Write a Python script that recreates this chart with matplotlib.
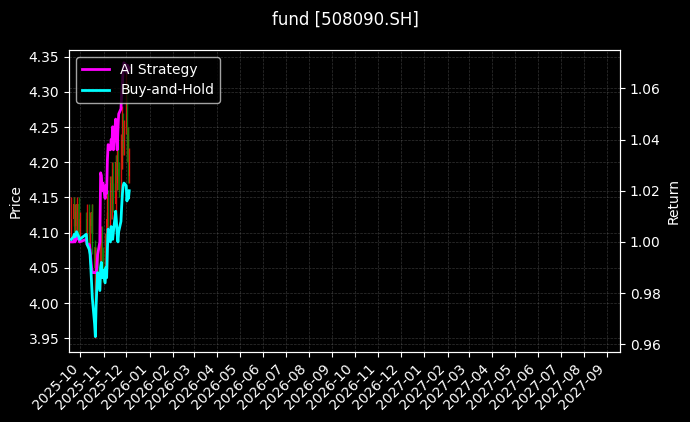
import pandas as pd
import matplotlib
matplotlib.use('Agg')
import matplotlib.pyplot as plt
import matplotlib.dates as mdates

# trading days (Golden Week holiday skipped)
dates = pd.to_datetime([
    '2025-09-19', '2025-09-22', '2025-09-23', '2025-09-24', '2025-09-25', '2025-09-26',
    '2025-09-29', '2025-09-30', '2025-10-09', '2025-10-10',
    '2025-10-13', '2025-10-14', '2025-10-15', '2025-10-16', '2025-10-17',
    '2025-10-20', '2025-10-21', '2025-10-22', '2025-10-23', '2025-10-24',
    '2025-10-27', '2025-10-28', '2025-10-29', '2025-10-30', '2025-10-31',
    '2025-11-03', '2025-11-04', '2025-11-05', '2025-11-06', '2025-11-07',
    '2025-11-10', '2025-11-11', '2025-11-12', '2025-11-13', '2025-11-14',
    '2025-11-17', '2025-11-18', '2025-11-19', '2025-11-20', '2025-11-21',
    '2025-11-24', '2025-11-25', '2025-11-26', '2025-11-27', '2025-11-28',
    '2025-12-01', '2025-12-02', '2025-12-03', '2025-12-04', '2025-12-05',
])

close = [4.12, 4.14, 4.10, 4.13, 4.11, 4.14, 4.10, 4.12, 4.10, 4.13,
         4.09, 4.12, 4.11, 4.13, 4.08, 4.05, 4.07, 4.04, 4.06, 4.03,
         4.08, 4.05, 4.10, 4.07, 4.04, 4.09, 4.06, 4.12, 4.15, 4.11,
         4.17, 4.13, 4.19, 4.16, 4.14, 4.20, 4.17, 4.22, 4.19, 4.16,
         4.23, 4.20, 4.26, 4.22, 4.25, 4.30, 4.21, 4.24, 4.18, 4.20]
open_ = [4.10, 4.12, 4.14, 4.10, 4.13, 4.11, 4.14, 4.10, 4.12, 4.10,
         4.13, 4.09, 4.12, 4.11, 4.13, 4.08, 4.05, 4.07, 4.04, 4.06,
         4.03, 4.08, 4.05, 4.10, 4.07, 4.04, 4.09, 4.06, 4.12, 4.15,
         4.11, 4.17, 4.13, 4.19, 4.16, 4.14, 4.20, 4.17, 4.22, 4.19,
         4.16, 4.23, 4.20, 4.26, 4.22, 4.25, 4.30, 4.21, 4.24, 4.18]
high = [4.15, 4.15, 4.15, 4.14, 4.14, 4.15, 4.15, 4.13, 4.13, 4.14,
        4.14, 4.13, 4.13, 4.14, 4.14, 4.09, 4.08, 4.08, 4.07, 4.07,
        4.09, 4.09, 4.11, 4.11, 4.08, 4.10, 4.10, 4.13, 4.16, 4.16,
        4.18, 4.18, 4.20, 4.20, 4.17, 4.21, 4.21, 4.23, 4.23, 4.20,
        4.24, 4.24, 4.28, 4.27, 4.26, 4.34, 4.31, 4.25, 4.25, 4.22]
low = [4.09, 4.11, 4.09, 4.09, 4.10, 4.10, 4.09, 4.09, 4.09, 4.09,
       4.08, 4.08, 4.10, 4.10, 4.07, 4.00, 3.95, 4.02, 4.03, 4.02,
       4.02, 4.04, 4.04, 4.06, 4.03, 4.03, 4.05, 4.05, 4.11, 4.10,
       4.10, 4.12, 4.12, 4.15, 4.13, 4.13, 4.16, 4.16, 4.18, 4.15,
       4.15, 4.19, 4.19, 4.21, 4.21, 4.24, 4.20, 4.20, 4.17, 4.17]

ai_strategy = [1.000, 1.000, 1.001, 1.000, 1.001, 1.002, 1.001, 1.000, 1.001, 0.999,
               0.999, 0.997, 0.993, 0.990, 0.988, 0.988, 0.988, 0.988, 0.990, 0.995,
               1.000, 1.027, 1.026, 1.020, 1.023, 1.017, 1.022, 1.019, 1.032, 1.038,
               1.036, 1.040, 1.038, 1.045, 1.036, 1.048, 1.042, 1.036, 1.044, 1.050,
               1.052, 1.058, 1.062, 1.068, 1.070, 1.069, 1.066, 1.069, 1.067, 1.068]
buy_hold = [1.001, 1.002, 1.003, 1.002, 1.003, 1.004, 1.002, 1.001, 1.003, 0.999,
            0.997, 0.995, 0.990, 0.984, 0.978, 0.968, 0.963, 0.975, 0.982, 0.988,
            0.981, 0.990, 0.992, 0.986, 0.989, 0.984, 0.990, 0.986, 0.997, 1.005,
            1.000, 1.006, 1.004, 1.001, 1.004, 1.012, 1.008, 1.003, 1.000, 1.004,
            1.008, 1.014, 1.019, 1.022, 1.023, 1.022, 1.016, 1.019, 1.017, 1.020]

plt.style.use('dark_background')
fig = plt.figure(figsize=(6.9, 4.22), dpi=100)
ax = fig.add_axes([0.1, 0.166, 0.7986, 0.7155])
ax2 = ax.twinx()

# candles
for d, o, c, h, l in zip(dates, open_, close, high, low):
    col = '#ff1010' if c >= o else '#0a8a0a'
    ax.vlines(d, l, h, color=col, linewidth=1.0, alpha=0.85)
    ax.bar(d, abs(c - o), bottom=min(o, c), width=0.9, color=col, alpha=0.85)

ax2.plot(dates, ai_strategy, color='magenta', linewidth=2, label='AI Strategy')
ax2.plot(dates, buy_hold, color='cyan', linewidth=2, label='Buy-and-Hold')

ax.set_ylim(3.9305, 4.3595)
ax2.set_ylim(0.957, 1.075)
ax.set_xlim(pd.Timestamp('2025-09-16'), pd.Timestamp('2027-09-18'))

ax.xaxis.set_major_locator(mdates.MonthLocator())
ax.xaxis.set_major_formatter(mdates.DateFormatter('%Y-%m'))
plt.setp(ax.get_xticklabels(), rotation=45, ha='right')

ax.set_ylabel('Price')
ax2.set_ylabel('Return')
ax.grid(True, linestyle='--', linewidth=0.5, color='gray', alpha=0.4)
ax2.grid(True, linestyle='--', linewidth=0.5, color='gray', alpha=0.4)

ax2.legend(loc='upper left', facecolor='black')
fig.suptitle('fund [508090.SH]', fontsize=12, y=0.975)

fig.savefig('out.png', dpi=100)
